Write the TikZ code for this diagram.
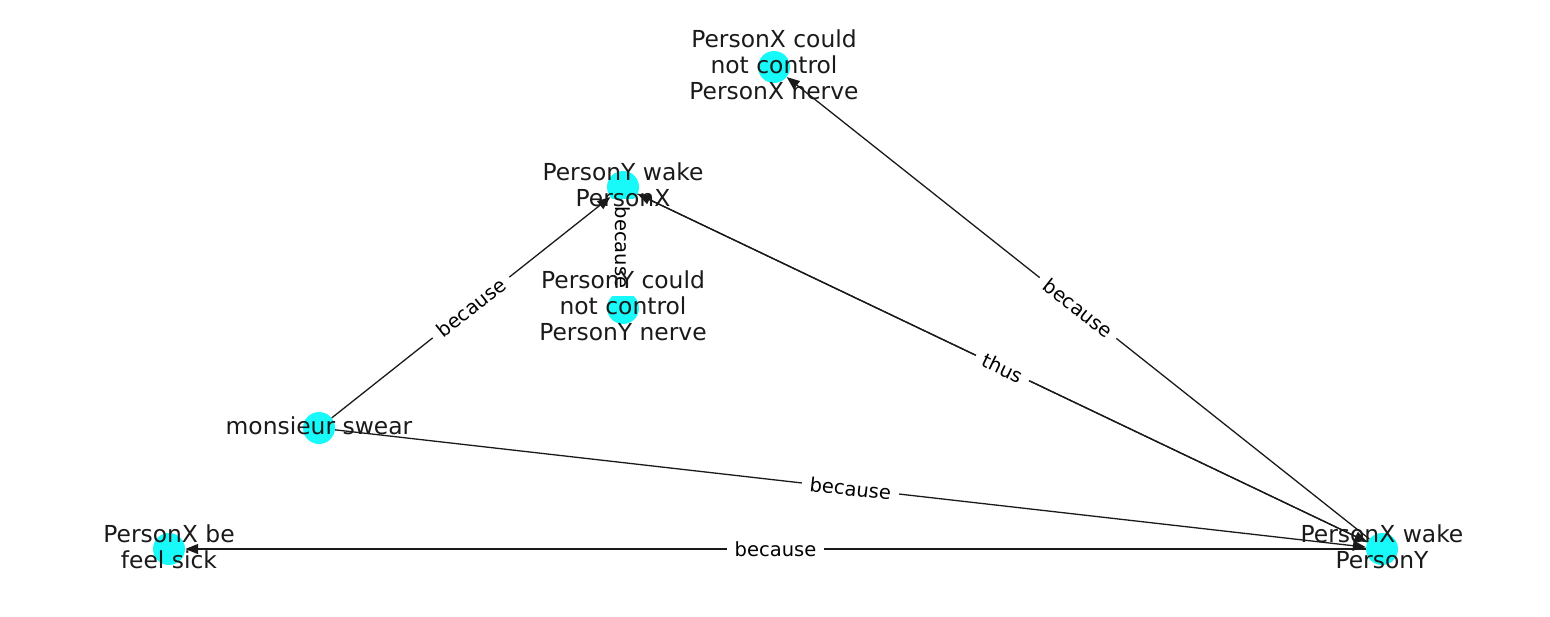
\documentclass[tikz,border=0pt]{standalone}
\usepackage{fontspec}
\setmainfont{DejaVu Sans}
\usetikzlibrary{arrows.meta}
\definecolor{nodecyan}{RGB}{24,250,250}
\definecolor{inkgray}{RGB}{26,26,26}
\begin{document}
\begin{tikzpicture}[x=1pt,y=-1pt,
  vtx/.style={circle,fill=nodecyan,draw=none,minimum size=32pt,inner sep=0pt},
  vlab/.style={align=center,font=\fontsize{23.4}{26}\selectfont,text=inkgray,inner sep=0pt,yshift=2pt},
  arr/.style={-{Triangle[length=13pt,width=10pt]},line width=1.3pt,draw=inkgray},
  elab/.style={fill=white,font=\fontsize{19.5}{22}\selectfont,inner xsep=8pt,inner ysep=3pt,text=black}]
\useasboundingbox (0,0) rectangle (1550,616);
% vertices
\node[vtx] (A) at (774,67) {};
\node[vtx] (B) at (623,187) {};
\node[vtx] (C) at (623,308) {};
\node[vtx] (D) at (319,428) {};
\node[vtx] (E) at (169,549) {};
\node[vtx] (F) at (1382,549) {};
% edges
\draw[arr] (F) -- (B);
\draw[arr] (F) -- node[elab,sloped]{because} (A);
\draw[arr] (D) -- node[elab,sloped]{because} (B);
\draw[arr] (C) -- node[elab,rotate=-90]{because} (B);
\draw[arr] (B) -- node[elab,sloped]{thus} (F);
\draw[arr] (D) -- node[elab,sloped]{because} (F);
\draw[arr] (F) -- node[elab]{because} (E);
% vertex labels
\node[vlab] (At) at (A) {PersonX could\\not control\\PersonX nerve};
\node[vlab] (Bt) at (B) {PersonY wake\\PersonX};
\node[vlab] (Ct) at (C) {PersonY could\\not control\\PersonY nerve};
\node[vlab] (Dt) at (D) {monsieur swear};
\node[vlab] (Et) at (E) {PersonX be\\feel sick};
\node[vlab] (Ft) at (F) {PersonX wake\\PersonY};
\end{tikzpicture}
\end{document}
